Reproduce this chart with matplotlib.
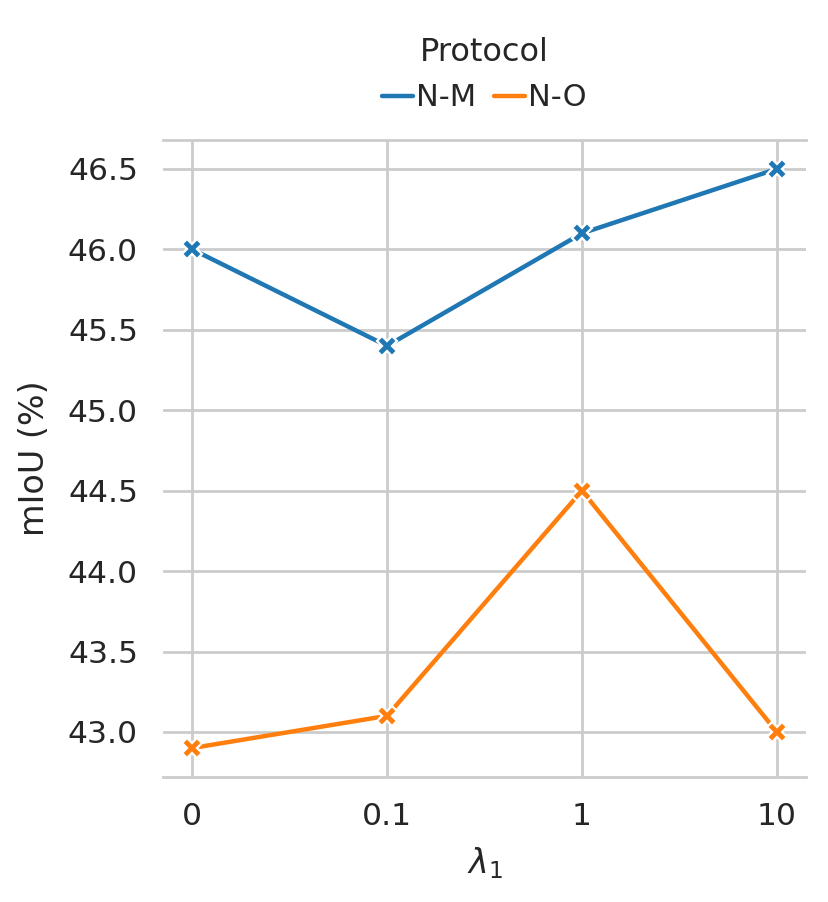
import matplotlib
matplotlib.use("Agg")
import matplotlib.pyplot as plt
from matplotlib.lines import Line2D
import seaborn as sns

# data
lambdas = ["0", "0.1", "1", "10"]
protocols = ["N-M", "N-O"]
miou_nm = [46.0, 45.4, 46.1, 46.5]
miou_no = [42.9, 43.1, 44.5, 43.0]
colors = ["#1f77b4", "#ff7f0e"]

sns.set_theme(style="whitegrid")
plt.rcParams["font.family"] = ["DejaVu Sans"]

fig = plt.figure(figsize=(4.145, 4.51), dpi=200)
ax = fig.add_axes([0.1966, 0.1386, 0.7757, 0.7062])

xs = range(len(lambdas))
handles = []
for name, vals, c in zip(protocols, [miou_nm, miou_no], colors):
    ax.plot(xs, vals, color=c, linewidth=1.6, marker="X", markersize=7,
            markeredgecolor="white", markeredgewidth=0.8)
    handles.append(Line2D([], [], color=c, linewidth=1.6, label=name))

ax.set_xticks(list(xs))
ax.set_xticklabels(lambdas)
ax.set_yticks([43.0, 43.5, 44.0, 44.5, 45.0, 45.5, 46.0, 46.5])
ax.tick_params(axis="both", labelsize=11.3, pad=3)
ax.set_xlabel(r"$\lambda_1$", fontsize=12, labelpad=5)
ax.set_ylabel("mIoU (%)", fontsize=12, labelpad=6)

ax.grid(True, color="#cccccc", linewidth=1)
for side in ["left", "right"]:
    ax.spines[side].set_visible(False)
for side in ["top", "bottom"]:
    ax.spines[side].set_color("#cccccc")
    ax.spines[side].set_linewidth(1)

leg = ax.legend(handles=handles, title="Protocol", loc="lower center",
                bbox_to_anchor=(0.5, 1.0), ncol=2, frameon=False,
                fontsize=11, title_fontsize=11.5,
                handlelength=1.0, handletextpad=0.1, columnspacing=0.6)

fig.savefig("out.png", dpi=200)
